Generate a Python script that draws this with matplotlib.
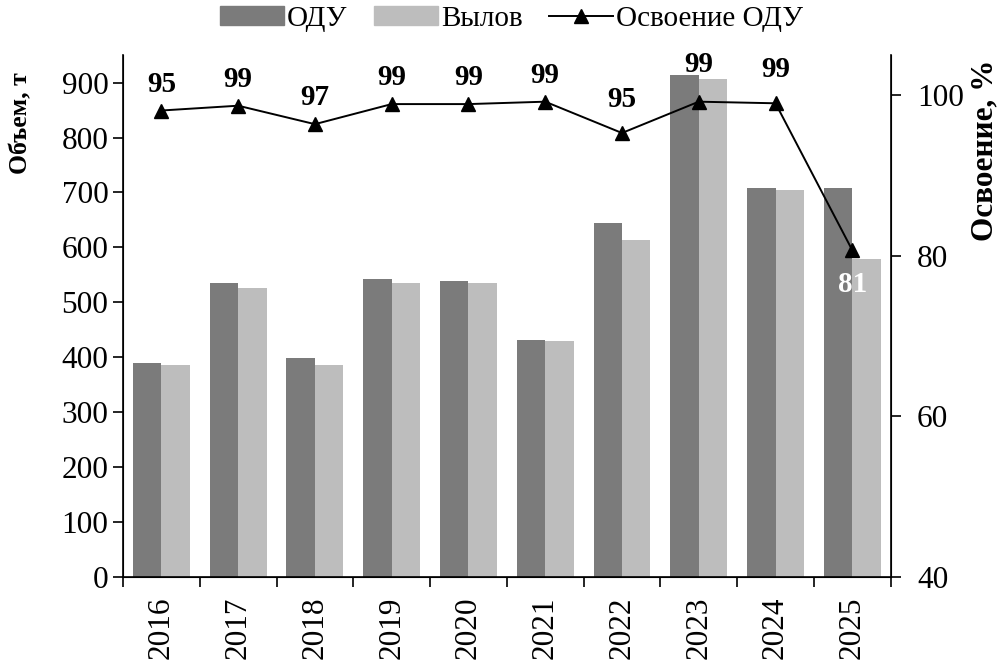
import matplotlib
matplotlib.use("Agg")
import matplotlib.pyplot as plt
from matplotlib.patches import Patch
from matplotlib.lines import Line2D
import numpy as np

plt.rcParams['font.family'] = ['Liberation Serif', 'DejaVu Serif']

years = ['2016', '2017', '2018', '2019', '2020', '2021', '2022', '2023', '2024', '2025']
odu = [390, 535, 398, 543, 538, 432, 645, 914, 709, 709]
catch = [386, 526, 386, 535, 535, 429, 614, 907, 705, 579]
usage = [98.1, 98.7, 96.4, 98.9, 98.9, 99.2, 95.3, 99.2, 99.0, 80.7]
usage_labels = ['95', '99', '97', '99', '99', '99', '95', '99', '99', '81']

dark = '#7b7b7b'
light = '#bdbdbd'

fig = plt.figure(figsize=(10.03, 6.64), dpi=100)
ax = fig.add_axes([0.1226, 0.131, 0.7654, 0.786])
ax2 = ax.twinx()

x = np.arange(len(years))
w = 0.37
ax.bar(x - w / 2, odu, w, color=dark, zorder=2)
ax.bar(x + w / 2, catch, w, color=light, zorder=2)

ax.set_xlim(-0.5, len(years) - 0.5)
ax.set_ylim(0, 950)
ax.set_yticks(range(0, 901, 100))
ax.set_xticks(x)
ax.set_xticklabels(years, rotation=90, fontsize=22.5)
ax.set_xticks(np.arange(-0.5, len(years)), minor=True)
ax.tick_params(axis='x', which='major', length=0, pad=14)
ax.tick_params(axis='x', which='minor', length=7, width=1.2, direction='out')
ax.tick_params(axis='y', labelsize=22.5, length=7, width=1.2, direction='out')
ax.spines['top'].set_visible(False)
for s in ['left', 'bottom']:
    ax.spines[s].set_linewidth(1.2)

ax2.plot(x, usage, color='black', lw=1.4, marker='^', markersize=10, zorder=3)
ax2.set_ylim(40, 105)
ax2.set_yticks([40, 60, 80, 100])
ax2.tick_params(axis='y', labelsize=22.5, length=7, width=1.2, direction='out', pad=12)
ax2.spines['top'].set_visible(False)
ax2.spines['right'].set_linewidth(1.2)

for i, (v, lab) in enumerate(zip(usage, usage_labels)):
    if i == len(usage) - 1:
        ax2.annotate(lab, (x[i], v), xytext=(0, -25), textcoords='offset points',
                     ha='center', va='center', fontsize=21, fontweight='bold', color='white')
    else:
        dy = 27 if i == 7 else (24 if i in (6, 8) else 19)
        ax2.annotate(lab, (x[i], v), xytext=(0, dy), textcoords='offset points',
                     ha='center', va='center', fontsize=21, fontweight='bold', color='black')

fig.text(0.021, 0.815, 'Объем, т', rotation=90, ha='center', va='center',
         fontsize=18.5, fontweight='bold')
fig.text(0.982, 0.774, 'Освоение, %', rotation=90, ha='center', va='center',
         fontsize=22.5, fontweight='bold')

handles = [Patch(color=dark), Patch(color=light),
           Line2D([], [], color='black', lw=1.4, marker='^', markersize=10)]
fig.legend(handles, ['ОДУ', 'Вылов', 'Освоение ОДУ'], loc='center',
           bbox_to_anchor=(0.51, 0.972), ncol=3, frameon=False, fontsize=21,
           handlelength=2.2, handleheight=0.6, handletextpad=0.1, columnspacing=0.9)

fig.savefig('out.png', dpi=100)
